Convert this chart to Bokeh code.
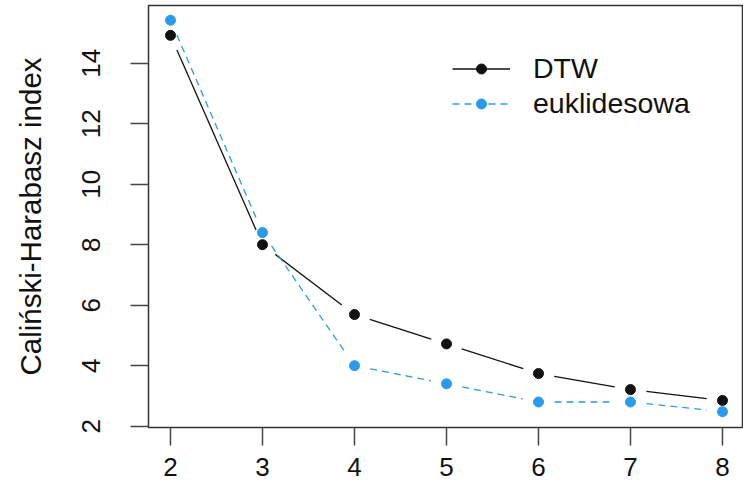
import math
from bokeh.plotting import figure
from bokeh.models import Range1d, Legend, LegendItem, FixedTicker, ColumnDataSource
from bokeh.embed import file_html
from bokeh.resources import INLINE

# ---- data ----
k_values = [2, 3, 4, 5, 6, 7, 8]
dtw = [14.92, 8.0, 5.69, 4.72, 3.74, 3.21, 2.85]
euklidesowa = [15.42, 8.4, 4.0, 3.4, 2.8, 2.8, 2.48]
x_ticks = [2, 3, 4, 5, 6, 7, 8]
y_ticks = [2, 4, 6, 8, 10, 12, 14]
series_labels = ["DTW", "euklidesowa"]

FONT = "Liberation Sans"
BLACK = "#111111"
BLUE = "#2A9BEA"

FRAME_W, FRAME_H = 594, 422
X0, X1 = 1.7609, 1.7609 + 594 / 92.0
Y0, Y1 = 1.957, 15.907

p = figure(frame_width=FRAME_W, frame_height=FRAME_H,
           x_range=Range1d(X0, X1), y_range=Range1d(Y0, Y1),
           output_backend="svg", toolbar_location=None,
           min_border_left=148, min_border_right=1,
           min_border_top=5, min_border_bottom=62)
p.grid.visible = False
p.background_fill_color = "white"
p.border_fill_color = "white"
p.outline_line_color = "#333333"
p.outline_line_width = 1.5

kx = FRAME_W / (X1 - X0)
ky = FRAME_H / (Y1 - Y0)
GAP = 16.0


def gapped(xs, ys):
    x0s, y0s, x1s, y1s = [], [], [], []
    for i in range(len(xs) - 1):
        dx = (xs[i + 1] - xs[i]) * kx
        dy = (ys[i + 1] - ys[i]) * ky
        L = math.hypot(dx, dy)
        if L <= 2 * GAP:
            continue
        ux, uy = dx / L, dy / L
        x0s.append(xs[i] + ux * GAP / kx)
        y0s.append(ys[i] + uy * GAP / ky)
        x1s.append(xs[i + 1] - ux * GAP / kx)
        y1s.append(ys[i + 1] - uy * GAP / ky)
    return dict(x0=x0s, y0=y0s, x1=x1s, y1=y1s)


seg_d = p.segment(x0="x0", y0="y0", x1="x1", y1="y1",
                  source=ColumnDataSource(gapped(k_values, dtw)),
                  line_color=BLACK, line_width=1.3)
seg_e = p.segment(x0="x0", y0="y0", x1="x1", y1="y1",
                  source=ColumnDataSource(gapped(k_values, euklidesowa)),
                  line_color=BLUE, line_width=1.3, line_dash="7 5")
pts_d = p.scatter(k_values, dtw, size=10, color=BLACK)
pts_e = p.scatter(k_values, euklidesowa, size=10, color=BLUE)

# axes
for ax in (p.xaxis[0], p.yaxis[0]):
    ax.axis_line_color = None
    ax.major_tick_out = 18
    ax.major_tick_in = 0
    ax.major_tick_line_color = "#444444"
    ax.major_tick_line_width = 1.5
    ax.minor_tick_line_color = None
    ax.major_label_text_font = FONT
    ax.major_label_text_font_size = "26px"
    ax.major_label_text_color = "#111111"

p.xaxis.ticker = FixedTicker(ticks=x_ticks)
p.yaxis.ticker = FixedTicker(ticks=y_ticks)
p.xaxis.major_label_standoff = 12
p.yaxis.major_label_standoff = 30
p.yaxis.major_label_orientation = "vertical"
p.yaxis.axis_label = "Caliński-Harabasz index"
p.yaxis.axis_label_text_font = FONT
p.yaxis.axis_label_text_font_size = "29.5px"
p.yaxis.axis_label_text_font_style = "normal"
p.yaxis.axis_label_text_color = "#111111"
p.yaxis.axis_label_standoff = 33

legend = Legend(items=[
    LegendItem(label=series_labels[0], renderers=[seg_d, pts_d]),
    LegendItem(label=series_labels[1], renderers=[seg_e, pts_e]),
], location=(304, 306))
legend.border_line_color = None
legend.background_fill_alpha = 0
legend.glyph_width = 58
legend.glyph_height = 25
legend.label_height = 35
legend.label_standoff = 23
legend.spacing = 0
legend.padding = 0
legend.margin = 0
legend.label_text_font = FONT
legend.label_text_font_size = "28.5px"
legend.label_text_color = "#111111"
p.add_layout(legend, "center")

open("out.html", "w").write(file_html(p, INLINE))
